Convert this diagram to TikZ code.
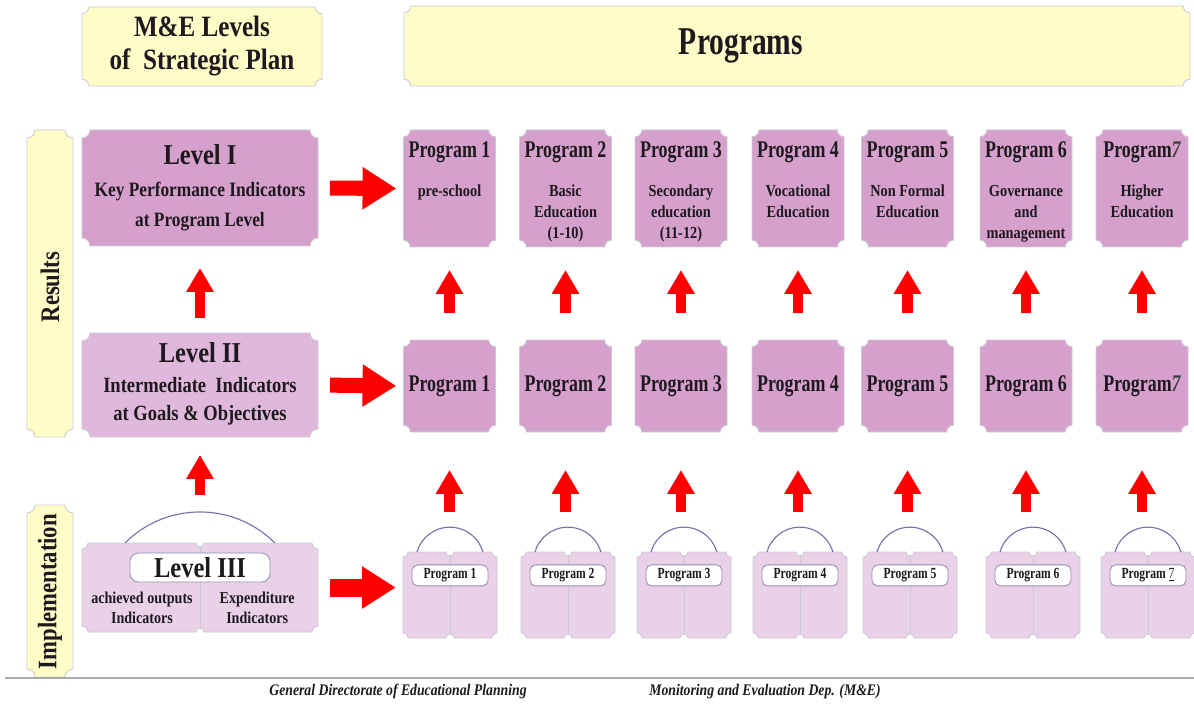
\documentclass[tikz,border=0pt]{standalone}
\usepackage{fontspec}
\setmainfont{Liberation Serif}[FakeStretch=0.85]
\newfontfamily\progfont{Liberation Serif}[FakeStretch=0.75]
\usetikzlibrary{arrows.meta,backgrounds,calc}

\definecolor{paleyellow}{RGB}{255,252,200}
\definecolor{orchidA}{RGB}{214,160,205}
\definecolor{orchidB}{RGB}{224,184,220}
\definecolor{orchidC}{RGB}{233,210,231}
\definecolor{edgegray}{RGB}{205,200,214}
\definecolor{arcblue}{RGB}{120,112,172}
\definecolor{tagedge}{RGB}{150,140,175}
\definecolor{inkblack}{RGB}{30,25,30}

\newcommand{\fnhead}{\bfseries\fontsize{21}{23.5}\selectfont}
\newcommand{\fnban}{\progfont\bfseries\fontsize{28}{30}\selectfont}
\newcommand{\fnbar}{\bfseries\fontsize{19}{21}\selectfont}
\newcommand{\fnlvl}{\bfseries\fontsize{20.5}{23}\selectfont}
\newcommand{\fnkey}{\bfseries\fontsize{14.5}{17}\selectfont}
\newcommand{\fnmid}{\bfseries\fontsize{15.5}{18}\selectfont}
\newcommand{\fnsmall}{\bfseries\fontsize{11.8}{14.2}\selectfont}
\newcommand{\fnptitle}{\progfont\bfseries\fontsize{17}{19}\selectfont}
\newcommand{\fnpsub}{\bfseries\fontsize{12}{14.9}\selectfont}
\newcommand{\fnptag}{\progfont\bfseries\fontsize{11}{12}\selectfont}
\newcommand{\fnfoot}{\bfseries\itshape\fontsize{11.5}{13}\selectfont}

% outline with hollow corners round a node: radius, node, fill
\newcommand{\notched}[3][0.17]{%
  \path[fill=#3, draw=edgegray, line width=0.6pt]
    ([xshift=#1cm]#2.north west) -- ([xshift=-#1cm]#2.north east)
    arc[start angle=180, end angle=270, radius=#1] -- ([yshift=#1cm]#2.south east)
    arc[start angle=90, end angle=180, radius=#1] -- ([xshift=#1cm]#2.south west)
    arc[start angle=0, end angle=90, radius=#1] -- ([yshift=-#1cm]#2.north west)
    arc[start angle=270, end angle=360, radius=#1] -- cycle;}
% same, cut in two halves with a notch at top and bottom
\newcommand{\splitnotched}[3][0.13]{%
  \path[fill=#3, draw=edgegray, line width=0.6pt]
    ([xshift=#1cm]#2.north west) -- ([xshift=-0.1cm]#2.north)
    arc[start angle=180, end angle=360, radius=0.1] -- ([xshift=-#1cm]#2.north east)
    arc[start angle=180, end angle=270, radius=#1] -- ([yshift=#1cm]#2.south east)
    arc[start angle=90, end angle=180, radius=#1] -- ([xshift=0.1cm]#2.south)
    arc[start angle=0, end angle=180, radius=0.1] -- ([xshift=#1cm]#2.south west)
    arc[start angle=0, end angle=90, radius=#1] -- ([yshift=-#1cm]#2.north west)
    arc[start angle=270, end angle=360, radius=#1] -- cycle;
  \draw[edgegray, line width=0.6pt] ([yshift=-0.1cm]#2.north) -- ([yshift=0.1cm]#2.south);}

\begin{document}
\begin{tikzpicture}[text=inkblack]
\tikzstyle{shell}=[inner sep=0pt, outer sep=0pt]
\tikzstyle{lvl}=[shell, minimum width=5.9cm]
\tikzstyle{prog}=[shell, minimum width=2.3cm]
\tikzstyle{bar}=[shell, minimum width=1.15cm]
\tikzstyle{tag}=[draw=tagedge, fill=white, rounded corners=4pt, inner sep=0pt, line width=0.6pt]
\tikzstyle{uparrow}=[draw=red, line width=7.8pt, -{Triangle[width=18.5pt,length=17pt]}]
\tikzstyle{rarrow}=[draw=red, line width=10.7pt, -{Triangle[width=28.5pt,length=24pt]}]
\tikzstyle{handle}=[draw=arcblue, line width=0.8pt]

\useasboundingbox (0,0) rectangle (29.85,-17.675);

% header row
\node[shell, minimum width=6cm, minimum height=1.975cm, align=center, font=\fnhead] (hdr) at (5.05,-1.1625) {M\&E Levels\\of~ Strategic Plan};
\node[shell, minimum width=19.65cm, minimum height=2cm] (ban) at (19.925,-1.15) {};
\node[font=\fnban] (banlbl) at (18.525,-1.15) {Programs};

% side bars
\node[bar, minimum height=7.675cm] (res) at (1.25,-7.0875) {};
\node[rotate=90, font=\fnbar] (reslbl) at (1.25,-7.175) {Results};
\node[bar, minimum height=4.3cm] (imp) at (1.25,-14.775) {};
\node[rotate=90, font=\fnbar] (implbl) at (1.25,-14.79) {Implementation};

% M&E levels
\node[lvl, minimum height=2.9cm] (L1) at (5,-4.7) {};
\node[font=\fnlvl] (L1a) at (5,-3.875) {Level I};
\node[font=\fnkey] (L1b) at (5,-4.8) {Key Performance Indicators};
\node[font=\fnkey] (L1c) at (5,-5.55) {at Program Level};

\node[lvl, minimum height=2.6cm] (L2) at (5,-9.625) {};
\node[font=\fnlvl] (L2a) at (5,-8.825) {Level II};
\node[font=\fnmid] (L2b) at (5,-9.625) {Intermediate~ Indicators};
\node[font=\fnmid] (L2c) at (5,-10.375) {at Goals \& Objectives};

\node[lvl, minimum height=2.225cm] (L3) at (5,-14.6875) {};
\node[tag, rounded corners=6pt, minimum width=3.5cm, minimum height=0.725cm, font=\fnlvl] (L3a) at (5,-14.1875) {Level III};
\node[align=center, font=\fnsmall] (L3b) at (3.55,-15.2) {achieved outputs\\Indicators};
\node[align=center, font=\fnsmall] (L3c) at (6.43,-15.2) {Expenditure\\Indicators};
\draw[handle] ([xshift=-1.875cm]L3.north) arc[start angle=135, end angle=45, radius=2.65];

% programs, three rows
\foreach \i/\x/\bx/\ttl/\sub/\btl in {
    1/11.2375/11.25/{Program 1}/{pre-school}/{Program 1},
    2/14.1375/14.2/{Program 2}/{Basic\\Education\\(1-10)}/{Program 2},
    3/17.025/17.1/{Program 3}/{Secondary\\education\\(11-12)}/{Program 3},
    4/19.95/20.0/{Program 4}/{Vocational\\Education}/{Program 4},
    5/22.6875/22.75/{Program 5}/{Non Formal\\Education}/{Program 5},
    6/25.65/25.825/{Program 6}/{Governance\\and\\management}/{Program 6},
    7/28.55/28.7/{Program{\color{darkgray}\itshape 7}}/{Higher\\Education}/{Program \textmd{\underline{7}}}} {
  \node[prog, minimum height=2.925cm] (t\i) at (\x,-4.7125) {};
  \node[font=\fnptitle] (tt\i) at (\x,-3.8) {\ttl};
  \node[anchor=north, align=center, inner sep=0pt, font=\fnpsub] (ts\i) at (\x,-4.62) {\sub};
  \node[prog, minimum height=2.3cm, font=\fnptitle] (m\i) at (\x,-9.65) {\ttl};
  \node[shell, minimum width=2.35cm, minimum height=2.15cm] (b\i) at (\bx,-14.875) {};
  \node[tag, minimum width=1.9cm, minimum height=0.525cm, font=\fnptag] (bl\i) at ([yshift=0.49cm]b\i.center) {\btl};
  \draw[handle] ([xshift=-0.825cm]b\i.north) arc[start angle=164, end angle=16, radius=0.857];
  \draw[uparrow, shorten <=0.675cm, shorten >=0.575cm] (m\i.north) -- (t\i.south);
  \draw[uparrow, shorten <=1cm, shorten >=0.95cm] (m\i.south |- b\i.north) -- (m\i.south);
}

% arrows between levels
\draw[uparrow, shorten <=0.375cm, shorten >=0.55cm] (L2.north) -- (L1.south);
\draw[uparrow, shorten <=1.2cm, shorten >=0.45cm] (L3.north) -- (L2.south);
\draw[rarrow, shorten <=0.3cm, shorten >=0.18cm] (L1.east) -- (t1.west);
\draw[rarrow, shorten <=0.3cm, shorten >=0.18cm] (L2.east) -- (m1.west);
\draw[rarrow, line width=12.8pt, shorten <=0.3cm, shorten >=0.18cm] (L3.east) -- (L3.east -| b1.west);

% footer
\draw[draw={rgb,255:red,170;green,170;blue,170}, line width=1pt] (0.125,-16.95) -- (29.85,-16.95);
\node[font=\fnfoot] (ft1) at (9.95,-17.3) {General Directorate of Educational Planning};
\node[font=\fnfoot] (ft2) at (19.125,-17.3) {Monitoring and Evaluation Dep. (M\&E)};

% box outlines
\begin{scope}[on background layer]
  \notched{hdr}{paleyellow}
  \notched{ban}{paleyellow}
  \notched[0.2]{res}{paleyellow}
  \notched[0.2]{imp}{paleyellow}
  \notched[0.2]{L1}{orchidA}
  \notched[0.2]{L2}{orchidB}
  \splitnotched[0.15]{L3}{orchidC}
  \foreach \i in {1,...,7} {
    \notched{t\i}{orchidA}
    \notched{m\i}{orchidA}
    \splitnotched{b\i}{orchidC}
  }
\end{scope}
\end{tikzpicture}
\end{document}
